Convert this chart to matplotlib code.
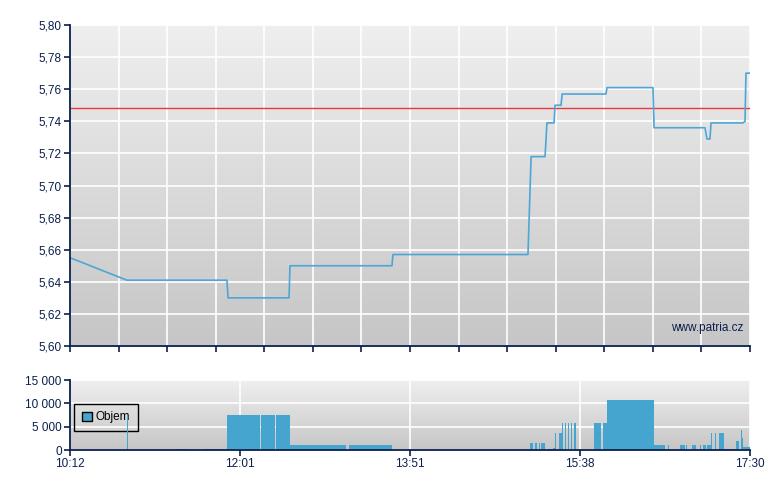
import numpy as np
import matplotlib.pyplot as plt
from matplotlib.colors import LinearSegmentedColormap
from matplotlib.patches import Patch

# time in minutes since 10:12
price_t = [0, 36.7, 101.1, 101.8, 141.1, 141.7, 207.4, 208, 295, 297, 306, 307.2,
           311.8, 312.4, 316.3, 317, 345.2, 345.9, 375.5, 376.2, 409, 410.3, 412.2,
           412.9, 433.5, 434.8, 435.4, 438]
price = [5.655, 5.641, 5.641, 5.630, 5.630, 5.650, 5.650, 5.657, 5.657, 5.718, 5.718, 5.739,
         5.739, 5.750, 5.750, 5.757, 5.757, 5.761, 5.761, 5.736, 5.736, 5.729, 5.729,
         5.739, 5.739, 5.740, 5.770, 5.770]
ref_price = 5.748

vol_start = [36.7, 52.2, 67.6, 70.2, 87, 101.1, 123, 130.4, 132.7, 141.7, 179.7,
             296.3, 299.5, 301.9, 303.4, 307.9, 310.9, 312.6, 315, 317.1, 318.6, 320.8,
             322.7, 324.6, 337.5, 343.5, 345.9, 376.2, 385.4, 392.9, 396.8, 400.6,
             405.8, 407.6, 410.5, 413.1, 415.6, 418, 421, 422, 428.7, 431.9, 432.6,
             433.3, 435]
vol_end = [37.4, 52.8, 69.6, 74.7, 101.1, 122.4, 130.1, 132, 141.7, 177.8, 207.4,
           298, 300.6, 302.7, 305.7, 309.8, 312.6, 313.3, 317.1, 317.8, 319.5, 321.6,
           323.5, 325.7, 341.8, 345.9, 376.2, 383.2, 386.1, 396.1, 397.5, 403.2,
           406.5, 409.7, 413.1, 413.8, 416.3, 421, 422, 428.7, 430.7, 432.6, 433.3,
           435, 438]
volume = [7600, 300, 300, 300, 300, 7400, 7400, 7400, 7400, 1100, 1100,
          1500, 1500, 1500, 1500, 300, 500, 3750, 3750, 5850, 5850, 5850,
          5850, 5850, 5850, 5850, 10800, 1100, 1100, 1100, 1100, 1100,
          1100, 1100, 1100, 3650, 3650, 3650, 300, 300, 1900, 4300, 2600,
          700, 600]

time_labels = ['10:12', '12:01', '13:51', '15:38', '17:30']

navy = '#0a1f4e'
plt.rcParams['font.family'] = ['Liberation Sans', 'DejaVu Sans']
plt.rcParams['font.size'] = 8.5

bg = LinearSegmentedColormap.from_list('bg', ['#c6c6c6', '#efefef'])
grad = np.linspace(0, 1, 256).reshape(-1, 1)

fig = plt.figure(figsize=(7.8, 4.9), dpi=100)
ax1 = fig.add_axes([70/780, 144/490, 680/780, 321/490])
ax2 = fig.add_axes([70/780, 40/490, 680/780, 70/490])

T = 438
# price chart
ax1.imshow(grad, extent=[0, T, 5.60, 5.80], aspect='auto', cmap=bg, origin='lower', zorder=0)
ax1.set_xlim(0, T)
ax1.set_ylim(5.60, 5.80)
ax1.set_xticks(np.linspace(0, T, 15))
ax1.set_xticklabels([])
ax1.set_yticks(np.arange(5.60, 5.801, 0.02))
ax1.set_yticklabels([('%.2f' % v).replace('.', ',') for v in np.arange(5.60, 5.801, 0.02)])
ax1.grid(True, color='white', lw=1.2, zorder=1)
ax1.axhline(ref_price, color='#e83a3a', lw=1, zorder=3)
ax1.plot(price_t, price, color='#4da6d6', lw=1.2, zorder=4)
ax1.text(0.99, 0.055, 'www.patria.cz', transform=ax1.transAxes, ha='right', va='center',
         color=navy, fontsize=8.5)

# volume chart
ax2.imshow(grad, extent=[0, T, 0, 15000], aspect='auto', cmap=bg, origin='lower', zorder=0)
ax2.set_xlim(0, T)
ax2.set_ylim(0, 15000)
ax2.set_yticks([0, 5000, 10000, 15000])
ax2.set_yticklabels(['0', '5 000', '10 000', '15 000'])
ax2.set_xticks(np.linspace(0, T, 5))
ax2.set_xticklabels(time_labels)
ax2.grid(True, color='white', lw=1.2, zorder=1)
w = np.array(vol_end) - np.array(vol_start)
ax2.bar(vol_start, volume, width=w, align='edge', color='#46a5cf', lw=0, zorder=3)
leg = ax2.legend(handles=[Patch(facecolor='#46a5cf', edgecolor='black', label='Objem')],
                 loc='upper left', bbox_to_anchor=(0.006, 0.66), fancybox=False,
                 edgecolor='black', facecolor='none', framealpha=1, fontsize=8.5,
                 handlelength=0.9, handleheight=0.9, borderpad=0.65, handletextpad=0.3,
                 borderaxespad=0)
leg.get_frame().set_linewidth(1)
leg.set_zorder(2)

for ax in (ax1, ax2):
    for s in ('top', 'right'):
        ax.spines[s].set_visible(False)
    for s in ('left', 'bottom'):
        ax.spines[s].set_color(navy)
        ax.spines[s].set_linewidth(1.3)
        ax.spines[s].set_zorder(5)
    ax.tick_params(colors=navy, length=4, width=1.2, labelcolor=navy, pad=2)

fig.savefig('out.png', dpi=100)
